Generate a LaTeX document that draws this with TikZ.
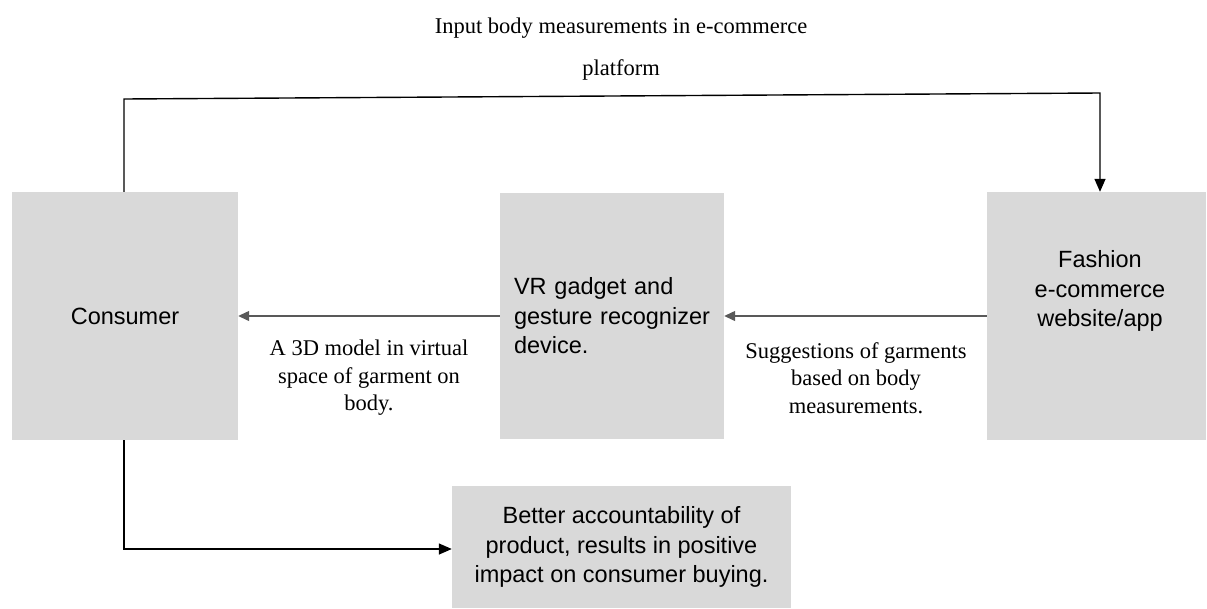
\documentclass[tikz,border=0pt]{standalone}
\usepackage{fontspec}
\setmainfont{Liberation Serif}
\newfontfamily\arial{Liberation Sans}
\usepackage{tikz}
\usetikzlibrary{arrows.meta,positioning}
\definecolor{boxgray}{HTML}{D9D9D9}
\definecolor{linegray}{HTML}{595959}

\begin{document}
\begin{tikzpicture}[x=1pt,y=-1pt]
         \tikzset{block/.style={rectangle,fill=boxgray,inner sep=0pt,
                  font=\arial\fontsize{23.5}{29.5}\selectfont,align=center}}
         \tikzset{note/.style={inner sep=0pt,align=center,
                  font=\fontsize{22.5}{27.5}\selectfont}}
         \tikzset{flow/.style={line width=1.4pt,-{Triangle[length=13pt,width=11pt]}}}
         \tikzset{back/.style={line width=1.3pt,draw=linegray,
                  -{Triangle[length=11pt,width=10pt]},color=linegray}}
         \useasboundingbox (0,0) rectangle (1207,608);
         % the four boxes
         \node[block,minimum width=226pt,minimum height=248pt] (consumer) at (125,316) {Consumer};
         \node[block,minimum width=224pt,minimum height=246pt,text width=196pt,align=left] (vr) at (612,316)
         {VR gadget and\\gesture recognizer\\device.};
         \node[block,minimum width=219pt,minimum height=248pt] (fashion) at (1096.5,316) {};
         \node[block,fill=none] (fashiontxt) at (1100,291) {Fashion\\e-commerce\\website/app};
         \node[block,minimum width=339pt,minimum height=122pt] (better) at (621.5,547)
         {Better accountability of\\product, results in positive\\impact on consumer buying.};
         % corner points of the two routed lines
         \coordinate (tl) at (124,99);
         \coordinate (tr) at (1100,93);
         \coordinate (bl) at (124,549);
         \draw[flow] (consumer.north -| tl) -- (tl) -- (tr) -- (tr |- fashion.north);
         \draw[flow] (consumer.south -| bl) -- (bl) -- (bl -| better.west);
         \draw[back] (fashion.west) -- (vr.east);
         \draw[back] (vr.west) -- (consumer.east);
         % edge texts
         \node[note,font=\fontsize{22.5}{42}\selectfont] (input) at (621,49)
         {Input body measurements in e-commerce\\platform};
         \node[note] (model) at (369,378) {A 3D model in virtual\\space of garment on\\body.};
         \node[note] (suggest) at (856,378) {Suggestions of garments\\based on body\\measurements.};
      \end{tikzpicture}
\end{document}
